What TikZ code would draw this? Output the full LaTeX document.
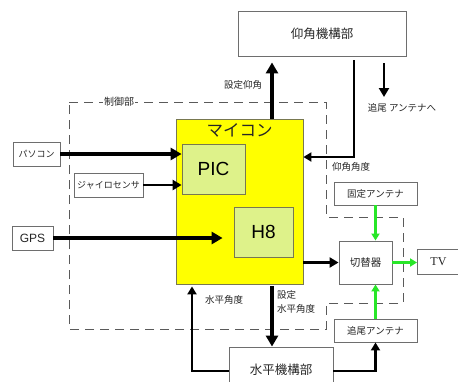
\documentclass[tikz,border=0pt]{standalone}
\usepackage{fontspec}
\setmainfont{Liberation Sans}
\newfontfamily\jp{Noto Sans CJK JP}
\newfontfamily\serifTV{Liberation Serif}
\usetikzlibrary{arrows.meta}
\definecolor{boxline}{RGB}{110,110,110}
\definecolor{micony}{RGB}{255,255,0}
\definecolor{inner}{RGB}{222,242,138}
\definecolor{innerline}{RGB}{120,120,80}
\definecolor{grn}{RGB}{40,230,40}
\definecolor{dashc}{RGB}{90,90,90}
\tikzset{
  blk/.style={draw=boxline, line width=0.9pt, fill=white, inner sep=0pt, text=black!85},
  jptext/.style={font=\jp, inner sep=1pt, text=black!85},
  bigarrow/.style={line width=3.2pt, -{Triangle[length=11pt,width=12pt]}},
  midarrow/.style={line width=2.6pt, -{Triangle[length=9pt,width=10pt]}},
  fbarrow/.style={line width=2.2pt, -{Triangle[length=8pt,width=9pt]}},
  grnarrow/.style={draw=grn, line width=2.6pt, -{Triangle[length=7pt,width=8pt]}},
  border/.style={draw=dashc, line width=0.8pt, dash pattern=on 9pt off 6pt},
}
\begin{document}
\begin{tikzpicture}[x=1pt,y=-1pt]
\clip (0,0) rectangle (458,381);
\fill[white] (0,0) rectangle (458,381);

% dashed control boundary
\draw[border] (69,102) -- (326,102) -- (326,217) -- (403,217) -- (403,303) -- (326,303) -- (326,329) -- (69,329) -- cycle;
\node[jptext, fill=white, font=\jp\fontsize{10}{12}\selectfont] (seigyo) at (119,102) {制御部};

% microcontroller
\node[draw=innerline, line width=0.8pt, fill=micony, minimum width=127pt, minimum height=165pt, inner sep=0pt] (micon) at (239.5,201.5) {};
\node[jptext, font=\jp\fontsize{16.5}{18}\selectfont] (micontitle) at (239.5,130) {マイコン};
\node[draw=innerline, line width=0.8pt, fill=inner, minimum width=63pt, minimum height=50pt, inner sep=0pt, font=\fontsize{19}{22}\selectfont] (pic) at (213.5,169) {PIC};
\node[draw=innerline, line width=0.8pt, fill=inner, minimum width=59pt, minimum height=50pt, inner sep=0pt, font=\fontsize{19}{22}\selectfont] (h8) at (263.5,232) {H8};

% inputs
\node[blk, minimum width=47pt, minimum height=24pt, font=\jp\fontsize{9}{10}\selectfont] (pasokon) at (36.5,154) {パソコン};
\node[blk, minimum width=69pt, minimum height=24pt, font=\jp\fontsize{9}{10}\selectfont] (gyro) at (108.5,185) {ジャイロセンサ};
\node[blk, minimum width=41pt, minimum height=24pt, font=\fontsize{12}{14}\selectfont] (gps) at (32.5,238) {GPS};

% mechanisms
\node[blk, minimum width=168pt, minimum height=45pt, font=\jp\fontsize{12.5}{14}\selectfont] (gyokaku) at (322,33.5) {仰角機構部};
\node[blk, minimum width=104pt, minimum height=46pt, font=\jp\fontsize{12.5}{14}\selectfont] (suihei) at (281,370) {水平機構部};

% antennas, switch, TV
\node[blk, minimum width=83pt, minimum height=23pt, font=\jp\fontsize{9.5}{10}\selectfont] (kotei) at (375.5,193.5) {固定アンテナ};
\node[blk, minimum width=83pt, minimum height=23pt, font=\jp\fontsize{9.5}{10}\selectfont] (tsubi) at (375.5,330.5) {追尾アンテナ};
\node[blk, minimum width=53pt, minimum height=43pt, font=\jp\fontsize{10.5}{12}\selectfont] (kirikae) at (365.5,262.5) {切替器};
\node[blk, minimum width=64pt, minimum height=25pt, anchor=west, font=\serifTV\fontsize{12}{14}\selectfont, text width=54pt, align=left] (tv) at (417,261.5) {\hspace*{8pt}TV};

% helper coordinates
\coordinate (setx) at (272,0);
\coordinate (fbup) at (354,157);
\coordinate (ta1) at (384,63);
\coordinate (ta2) at (384,97);
\coordinate (hfb) at (192,371);

% input arrows
\draw[bigarrow] (pasokon.east) -- (pasokon.east -| pic.west);
\draw[midarrow] (gyro.east) -- (gyro.east -| pic.west);
\draw[bigarrow, shorten >=11pt] (gps.east) -- (gps.east -| h8.west);

% elevation
\draw[bigarrow, shorten >=6pt] (micon.north -| setx) -- (gyokaku.south -| setx);
\draw[fbarrow, shorten <=4pt] (gyokaku.south -| fbup) |- (micon.east |- fbup);
\draw[midarrow] (ta1) -- (ta2);

% horizontal
\draw[bigarrow, shorten <=2pt] (micon.south -| setx) -- (suihei.north -| setx);
\draw[fbarrow, shorten >=2pt] (suihei.west |- hfb) -| (micon.south -| hfb);
\draw[fbarrow] (suihei.east |- hfb) -| (tsubi.south);

% switch
\draw[midarrow] (micon.east |- kirikae.west) -- (kirikae.west);
\draw[grnarrow] (kotei.south) -- (kotei.south |- kirikae.north);
\draw[grnarrow] (tsubi.north) -- (tsubi.north |- kirikae.south);
\draw[grnarrow] (kirikae.east) -- (kirikae.east -| tv.west);

% labels
\node[jptext, font=\jp\fontsize{9.5}{11}\selectfont] (lset1) at (243,85) {設定仰角};
\node[jptext, font=\jp\fontsize{9.5}{11}\selectfont] (lfb1) at (351,167) {仰角角度};
\node[jptext, font=\jp\fontsize{9.5}{11}\selectfont] (lta) at (402,108) {追尾 アンテナへ};
\node[jptext, font=\jp\fontsize{9.5}{11}\selectfont] (lfb2) at (224,300) {水平角度};
\node[jptext, anchor=west, align=left, font=\jp\fontsize{9.5}{14}\selectfont] (lset2) at (276,302) {設定\\水平角度};
\end{tikzpicture}
\end{document}
